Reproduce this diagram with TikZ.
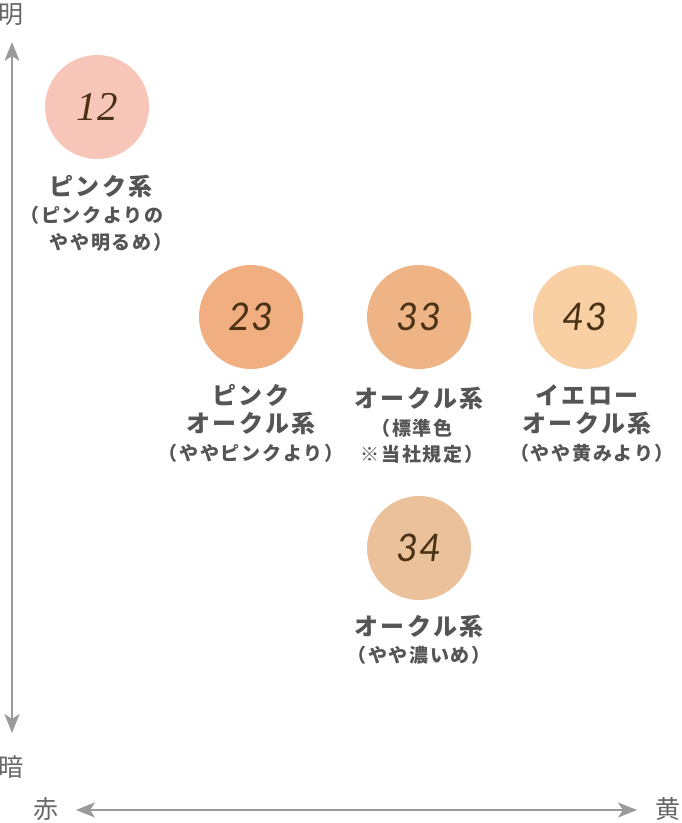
\documentclass[tikz,border=0pt]{standalone}
\usepackage{fontspec}
\usetikzlibrary{arrows.meta}
\newfontfamily\jp{Noto Sans CJK JP}[LetterSpace=11]
\newfontfamily\jpsub{Noto Sans CJK JP}[LetterSpace=9]
\newfontfamily\jpax{Noto Sans CJK JP}
\newfontfamily\numserif{Liberation Serif}
\newfontfamily\numsans{Lato}
\definecolor{txt}{HTML}{555555}
\definecolor{axtxt}{HTML}{666666}
\definecolor{axis}{HTML}{9A9A9A}
\definecolor{num}{HTML}{4A3214}
\definecolor{cA}{HTML}{F7C6B9}
\definecolor{cB}{HTML}{F1AE80}
\definecolor{cC}{HTML}{EEB485}
\definecolor{cD}{HTML}{F9D0A4}
\definecolor{cE}{HTML}{EBC19C}
\tikzset{
  dot/.style={circle,minimum size=104pt,inner sep=0pt},
  numtxt/.style={text=num,font=\fontsize{38}{38}\selectfont\numsans\itshape},
  ttl/.style={text=txt,font=\fontsize{24}{24}\selectfont\jp\bfseries,inner sep=0pt},
  sub/.style={text=txt,font=\fontsize{19}{19}\selectfont\jpsub\bfseries,inner sep=0pt},
  axlab/.style={text=axtxt,font=\fontsize{25}{25}\selectfont\jpax,inner sep=0pt},
  axarrow/.style={draw=axis,line width=2pt,arrows={Stealth[inset=5pt,length=19pt,width=15pt]-Stealth[inset=5pt,length=19pt,width=15pt]}}
}
\begin{document}
\begin{tikzpicture}[x=1pt,y=-1pt]
\useasboundingbox (0,0) rectangle (681,823);
% axes
\coordinate (vtop) at (12,42);
\coordinate (vbot) at (12,733);
\coordinate (hleft) at (76,810);
\coordinate (hright) at (637,810);
\draw[axarrow] (vtop) -- (vbot);
\draw[axarrow] (hleft) -- (hright);
\node[axlab] (light) at (11,15) {明};
\node[axlab] (dark) at (11,767) {暗};
\node[axlab] (red) at (46,809) {赤};
\node[axlab] (yellow) at (668,809) {黄};
% circles
\node[dot,fill=cA] (c12) at (97,107) {};
\node[numtxt,font=\fontsize{41}{41}\selectfont\numserif\itshape] at (c12) {12};
\node[dot,fill=cB] (c23) at (251,317) {};
\node[numtxt] at (c23) {23};
\node[dot,fill=cC] (c33) at (419,317) {};
\node[numtxt] at (c33) {33};
\node[dot,fill=cD] (c43) at (585,317) {};
\node[numtxt] at (c43) {43};
\node[dot,fill=cE] (c34) at (419,548) {};
\node[numtxt] at (c34) {34};
% labels 12
\node[ttl] (l12a) at (101,186) {ピンク系};
\node[sub] (l12b) at (92,215) {（ピンクよりの};
\node[sub] (l12c) at (111,242) {やや明るめ）};
% labels 23
\node[ttl] (l23a) at (251,395) {ピンク};
\node[ttl] (l23b) at (251,423) {オークル系};
\node[sub] (l23c) at (251,453) {（ややピンクより）};
% labels 33
\node[ttl] (l33a) at (419,398) {オークル系};
\node[sub] (l33b) at (412,428) {（標準色};
\node[sub] (l33c) at (422,454) {※当社規定）};
% labels 43
\node[ttl] (l43a) at (587,395) {イエロー};
\node[ttl] (l43b) at (587,423) {オークル系};
\node[sub] (l43c) at (592,453) {（やや黄みより）};
% labels 34
\node[ttl] (l34a) at (419,626) {オークル系};
\node[sub] (l34b) at (419,655) {（やや濃いめ）};
\end{tikzpicture}
\end{document}
